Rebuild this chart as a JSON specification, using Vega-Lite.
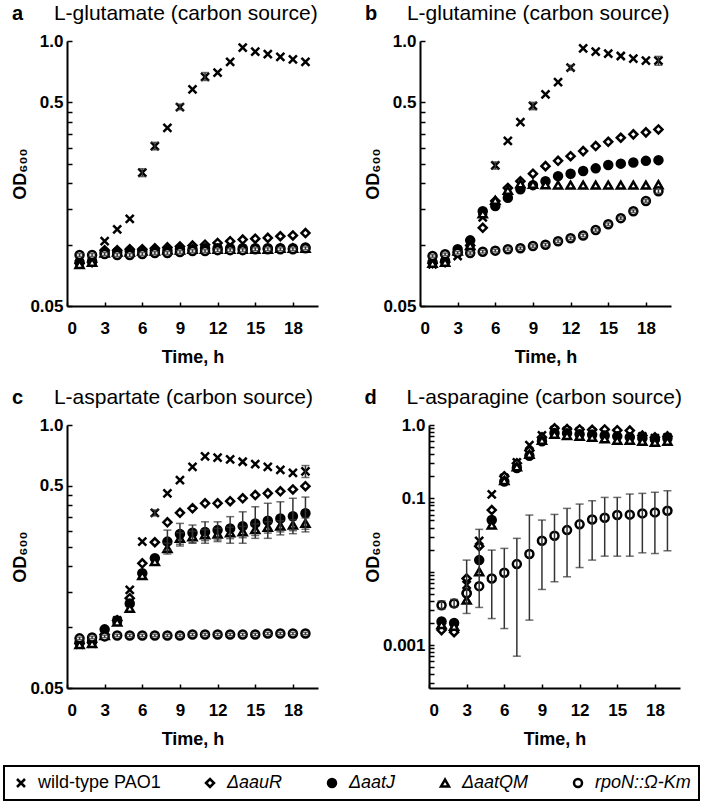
{
"$schema": "https://vega.github.io/schema/vega-lite/v6.json",
"padding": {"left": 3, "right": 3, "top": 3, "bottom": 3},
"config": {
 "font": "Liberation Sans",
 "view": {"stroke": null},
 "axis": {"grid": false, "domainColor": "black", "domainWidth": 2, "tickColor": "black", "tickWidth": 1.5, "labelFontSize": 17, "labelFontWeight": "bold", "labelColor": "black", "titleFontSize": 18, "titleFontWeight": "bold", "titleColor": "black", "labelOverlap": false, "labelBound": false},
 "title": {"anchor": "start", "fontSize": 20, "fontWeight": "bold", "color": "black", "subtitleFontSize": 21, "subtitleColor": "black", "subtitleFontWeight": "normal", "subtitlePadding": -21, "offset": 7, "subtitleFont": "Liberation Sans"},
 "legend": {"direction": "horizontal", "title": null, "labelFontSize": 18, "labelColor": "black", "strokeColor": "black", "strokeWidth": 2, "padding": 8, "columnPadding": 40, "labelOffset": 8, "symbolStrokeWidth": 2.5, "symbolSize": 64, "gridAlign": "each"}
},
"datasets": {"od": [
{"p":"a","s":"WT","t":1,"y":0.081},{"p":"a","s":"WT","t":2,"y":0.083},{"p":"a","s":"WT","t":3,"y":0.104},{"p":"a","s":"WT","t":4,"y":0.119},{"p":"a","s":"WT","t":5,"y":0.134},{"p":"a","s":"WT","t":6,"y":0.226,"lo":0.216,"hi":0.236},{"p":"a","s":"WT","t":7,"y":0.305,"lo":0.292,"hi":0.318},{"p":"a","s":"WT","t":8,"y":0.375},{"p":"a","s":"WT","t":9,"y":0.474,"lo":0.46,"hi":0.49},{"p":"a","s":"WT","t":10,"y":0.579},{"p":"a","s":"WT","t":11,"y":0.666,"lo":0.64,"hi":0.70},{"p":"a","s":"WT","t":12,"y":0.699},{"p":"a","s":"WT","t":13,"y":0.789},{"p":"a","s":"WT","t":14,"y":0.927},{"p":"a","s":"WT","t":15,"y":0.886},{"p":"a","s":"WT","t":16,"y":0.861},{"p":"a","s":"WT","t":17,"y":0.835},{"p":"a","s":"WT","t":18,"y":0.813},{"p":"a","s":"WT","t":19,"y":0.789},
{"p":"a","s":"R","t":1,"y":0.081},{"p":"a","s":"R","t":2,"y":0.082},{"p":"a","s":"R","t":3,"y":0.094},{"p":"a","s":"R","t":4,"y":0.094},{"p":"a","s":"R","t":5,"y":0.095},{"p":"a","s":"R","t":6,"y":0.095},{"p":"a","s":"R","t":7,"y":0.096},{"p":"a","s":"R","t":8,"y":0.097},{"p":"a","s":"R","t":9,"y":0.098},{"p":"a","s":"R","t":10,"y":0.099},{"p":"a","s":"R","t":11,"y":0.100},{"p":"a","s":"R","t":12,"y":0.102},{"p":"a","s":"R","t":13,"y":0.104},{"p":"a","s":"R","t":14,"y":0.106},{"p":"a","s":"R","t":15,"y":0.107},{"p":"a","s":"R","t":16,"y":0.108},{"p":"a","s":"R","t":17,"y":0.110},{"p":"a","s":"R","t":18,"y":0.111},{"p":"a","s":"R","t":19,"y":0.114},
{"p":"a","s":"J","t":1,"y":0.082},{"p":"a","s":"J","t":2,"y":0.083},{"p":"a","s":"J","t":3,"y":0.092},{"p":"a","s":"J","t":4,"y":0.092},{"p":"a","s":"J","t":5,"y":0.093},{"p":"a","s":"J","t":6,"y":0.093},{"p":"a","s":"J","t":7,"y":0.094},{"p":"a","s":"J","t":8,"y":0.094},{"p":"a","s":"J","t":9,"y":0.095},{"p":"a","s":"J","t":10,"y":0.095},{"p":"a","s":"J","t":11,"y":0.096},{"p":"a","s":"J","t":12,"y":0.096},{"p":"a","s":"J","t":13,"y":0.096},{"p":"a","s":"J","t":14,"y":0.096},{"p":"a","s":"J","t":15,"y":0.096},{"p":"a","s":"J","t":16,"y":0.096},{"p":"a","s":"J","t":17,"y":0.096},{"p":"a","s":"J","t":18,"y":0.096},{"p":"a","s":"J","t":19,"y":0.097},
{"p":"a","s":"QM","t":1,"y":0.080},{"p":"a","s":"QM","t":2,"y":0.082},{"p":"a","s":"QM","t":3,"y":0.091},{"p":"a","s":"QM","t":4,"y":0.092},{"p":"a","s":"QM","t":5,"y":0.092},{"p":"a","s":"QM","t":6,"y":0.093},{"p":"a","s":"QM","t":7,"y":0.093},{"p":"a","s":"QM","t":8,"y":0.094},{"p":"a","s":"QM","t":9,"y":0.094},{"p":"a","s":"QM","t":10,"y":0.095},{"p":"a","s":"QM","t":11,"y":0.095},{"p":"a","s":"QM","t":12,"y":0.095},{"p":"a","s":"QM","t":13,"y":0.095},{"p":"a","s":"QM","t":14,"y":0.095},{"p":"a","s":"QM","t":15,"y":0.095},{"p":"a","s":"QM","t":16,"y":0.095},{"p":"a","s":"QM","t":17,"y":0.096},{"p":"a","s":"QM","t":18,"y":0.096},{"p":"a","s":"QM","t":19,"y":0.096},
{"p":"a","s":"N","t":1,"y":0.089,"lo":0.0875,"hi":0.0905},{"p":"a","s":"N","t":2,"y":0.089,"lo":0.0875,"hi":0.0905},{"p":"a","s":"N","t":3,"y":0.090,"lo":0.0885,"hi":0.0915},{"p":"a","s":"N","t":4,"y":0.089,"lo":0.0875,"hi":0.0905},{"p":"a","s":"N","t":5,"y":0.089,"lo":0.0875,"hi":0.0905},{"p":"a","s":"N","t":6,"y":0.090,"lo":0.0885,"hi":0.0915},{"p":"a","s":"N","t":7,"y":0.091,"lo":0.0895,"hi":0.0925},{"p":"a","s":"N","t":8,"y":0.091,"lo":0.0895,"hi":0.0925},{"p":"a","s":"N","t":9,"y":0.092,"lo":0.0905,"hi":0.0935},{"p":"a","s":"N","t":10,"y":0.093,"lo":0.0915,"hi":0.0945},{"p":"a","s":"N","t":11,"y":0.093,"lo":0.0915,"hi":0.0945},{"p":"a","s":"N","t":12,"y":0.094,"lo":0.0925,"hi":0.0955},{"p":"a","s":"N","t":13,"y":0.094,"lo":0.0925,"hi":0.0955},{"p":"a","s":"N","t":14,"y":0.094,"lo":0.0925,"hi":0.0955},{"p":"a","s":"N","t":15,"y":0.095,"lo":0.0935,"hi":0.0965},{"p":"a","s":"N","t":16,"y":0.095,"lo":0.0935,"hi":0.0965},{"p":"a","s":"N","t":17,"y":0.095,"lo":0.0935,"hi":0.0965},{"p":"a","s":"N","t":18,"y":0.095,"lo":0.0935,"hi":0.0965},{"p":"a","s":"N","t":19,"y":0.096,"lo":0.0945,"hi":0.0975},

{"p":"b","s":"WT","t":1,"y":0.080},{"p":"b","s":"WT","t":2,"y":0.082},{"p":"b","s":"WT","t":3,"y":0.088},{"p":"b","s":"WT","t":4,"y":0.097},{"p":"b","s":"WT","t":5,"y":0.136},{"p":"b","s":"WT","t":6,"y":0.245,"lo":0.235,"hi":0.255},{"p":"b","s":"WT","t":7,"y":0.323},{"p":"b","s":"WT","t":8,"y":0.40},{"p":"b","s":"WT","t":9,"y":0.48,"lo":0.46,"hi":0.50},{"p":"b","s":"WT","t":10,"y":0.547},{"p":"b","s":"WT","t":11,"y":0.629},{"p":"b","s":"WT","t":12,"y":0.74,"lo":0.72,"hi":0.76},{"p":"b","s":"WT","t":13,"y":0.92},{"p":"b","s":"WT","t":14,"y":0.886},{"p":"b","s":"WT","t":15,"y":0.866},{"p":"b","s":"WT","t":16,"y":0.844},{"p":"b","s":"WT","t":17,"y":0.82},{"p":"b","s":"WT","t":18,"y":0.80},{"p":"b","s":"WT","t":19,"y":0.80,"lo":0.76,"hi":0.84},
{"p":"b","s":"R","t":1,"y":0.081},{"p":"b","s":"R","t":2,"y":0.082},{"p":"b","s":"R","t":3,"y":0.092},{"p":"b","s":"R","t":4,"y":0.099},{"p":"b","s":"R","t":5,"y":0.121},{"p":"b","s":"R","t":6,"y":0.164},{"p":"b","s":"R","t":7,"y":0.19},{"p":"b","s":"R","t":8,"y":0.205},{"p":"b","s":"R","t":9,"y":0.223},{"p":"b","s":"R","t":10,"y":0.243},{"p":"b","s":"R","t":11,"y":0.258},{"p":"b","s":"R","t":12,"y":0.272},{"p":"b","s":"R","t":13,"y":0.288},{"p":"b","s":"R","t":14,"y":0.305},{"p":"b","s":"R","t":15,"y":0.32},{"p":"b","s":"R","t":16,"y":0.335},{"p":"b","s":"R","t":17,"y":0.348},{"p":"b","s":"R","t":18,"y":0.356},{"p":"b","s":"R","t":19,"y":0.368},
{"p":"b","s":"J","t":1,"y":0.082},{"p":"b","s":"J","t":2,"y":0.083},{"p":"b","s":"J","t":3,"y":0.095},{"p":"b","s":"J","t":4,"y":0.105},{"p":"b","s":"J","t":5,"y":0.146},{"p":"b","s":"J","t":6,"y":0.155},{"p":"b","s":"J","t":7,"y":0.17},{"p":"b","s":"J","t":8,"y":0.187},{"p":"b","s":"J","t":9,"y":0.196},{"p":"b","s":"J","t":10,"y":0.205},{"p":"b","s":"J","t":11,"y":0.217},{"p":"b","s":"J","t":12,"y":0.223},{"p":"b","s":"J","t":13,"y":0.23},{"p":"b","s":"J","t":14,"y":0.237},{"p":"b","s":"J","t":15,"y":0.246},{"p":"b","s":"J","t":16,"y":0.25},{"p":"b","s":"J","t":17,"y":0.253},{"p":"b","s":"J","t":18,"y":0.258},{"p":"b","s":"J","t":19,"y":0.26},
{"p":"b","s":"QM","t":1,"y":0.081},{"p":"b","s":"QM","t":2,"y":0.082},{"p":"b","s":"QM","t":3,"y":0.093},{"p":"b","s":"QM","t":4,"y":0.099},{"p":"b","s":"QM","t":5,"y":0.142},{"p":"b","s":"QM","t":6,"y":0.165},{"p":"b","s":"QM","t":7,"y":0.185},{"p":"b","s":"QM","t":8,"y":0.199},{"p":"b","s":"QM","t":9,"y":0.198},{"p":"b","s":"QM","t":10,"y":0.197},{"p":"b","s":"QM","t":11,"y":0.196},{"p":"b","s":"QM","t":12,"y":0.196},{"p":"b","s":"QM","t":13,"y":0.196},{"p":"b","s":"QM","t":14,"y":0.196},{"p":"b","s":"QM","t":15,"y":0.196},{"p":"b","s":"QM","t":16,"y":0.196},{"p":"b","s":"QM","t":17,"y":0.196},{"p":"b","s":"QM","t":18,"y":0.196},{"p":"b","s":"QM","t":19,"y":0.197},
{"p":"b","s":"N","t":1,"y":0.088,"lo":0.0867,"hi":0.0893},{"p":"b","s":"N","t":2,"y":0.0897,"lo":0.0884,"hi":0.091},{"p":"b","s":"N","t":3,"y":0.0913,"lo":0.09,"hi":0.0926},{"p":"b","s":"N","t":4,"y":0.091,"lo":0.0897,"hi":0.0923},{"p":"b","s":"N","t":5,"y":0.0924,"lo":0.091,"hi":0.0938},{"p":"b","s":"N","t":6,"y":0.0935,"lo":0.0921,"hi":0.0949},{"p":"b","s":"N","t":7,"y":0.095,"lo":0.0936,"hi":0.0964},{"p":"b","s":"N","t":8,"y":0.096,"lo":0.0946,"hi":0.0974},{"p":"b","s":"N","t":9,"y":0.0985,"lo":0.097,"hi":0.1},{"p":"b","s":"N","t":10,"y":0.100,"lo":0.0985,"hi":0.1015},{"p":"b","s":"N","t":11,"y":0.104,"lo":0.1024,"hi":0.1056},{"p":"b","s":"N","t":12,"y":0.1075,"lo":0.1059,"hi":0.1091},{"p":"b","s":"N","t":13,"y":0.111,"lo":0.1093,"hi":0.1127},{"p":"b","s":"N","t":14,"y":0.118,"lo":0.1162,"hi":0.1198},{"p":"b","s":"N","t":15,"y":0.126,"lo":0.1241,"hi":0.1279},{"p":"b","s":"N","t":16,"y":0.135,"lo":0.133,"hi":0.137},{"p":"b","s":"N","t":17,"y":0.146,"lo":0.1438,"hi":0.1482},{"p":"b","s":"N","t":18,"y":0.164,"lo":0.1615,"hi":0.1665},{"p":"b","s":"N","t":19,"y":0.183,"lo":0.179,"hi":0.187},

{"p":"c","s":"WT","t":1,"y":0.082},{"p":"c","s":"WT","t":2,"y":0.083},{"p":"c","s":"WT","t":3,"y":0.092},{"p":"c","s":"WT","t":4,"y":0.108},{"p":"c","s":"WT","t":5,"y":0.153},{"p":"c","s":"WT","t":6,"y":0.265},{"p":"c","s":"WT","t":7,"y":0.368,"lo":0.355,"hi":0.38},{"p":"c","s":"WT","t":8,"y":0.459},{"p":"c","s":"WT","t":9,"y":0.534},{"p":"c","s":"WT","t":10,"y":0.62},{"p":"c","s":"WT","t":11,"y":0.70},{"p":"c","s":"WT","t":12,"y":0.69},{"p":"c","s":"WT","t":13,"y":0.676},{"p":"c","s":"WT","t":14,"y":0.658},{"p":"c","s":"WT","t":15,"y":0.641},{"p":"c","s":"WT","t":16,"y":0.62},{"p":"c","s":"WT","t":17,"y":0.60},{"p":"c","s":"WT","t":18,"y":0.58},{"p":"c","s":"WT","t":19,"y":0.59,"lo":0.55,"hi":0.63},
{"p":"c","s":"R","t":1,"y":0.083},{"p":"c","s":"R","t":2,"y":0.084},{"p":"c","s":"R","t":3,"y":0.092},{"p":"c","s":"R","t":4,"y":0.108},{"p":"c","s":"R","t":5,"y":0.139},{"p":"c","s":"R","t":6,"y":0.207},{"p":"c","s":"R","t":7,"y":0.263},{"p":"c","s":"R","t":8,"y":0.33},{"p":"c","s":"R","t":9,"y":0.368},{"p":"c","s":"R","t":10,"y":0.387},{"p":"c","s":"R","t":11,"y":0.41},{"p":"c","s":"R","t":12,"y":0.41},{"p":"c","s":"R","t":13,"y":0.42},{"p":"c","s":"R","t":14,"y":0.434},{"p":"c","s":"R","t":15,"y":0.45},{"p":"c","s":"R","t":16,"y":0.459},{"p":"c","s":"R","t":17,"y":0.47},{"p":"c","s":"R","t":18,"y":0.48},{"p":"c","s":"R","t":19,"y":0.498},
{"p":"c","s":"J","t":1,"y":0.084},{"p":"c","s":"J","t":2,"y":0.085},{"p":"c","s":"J","t":3,"y":0.0975},{"p":"c","s":"J","t":4,"y":0.108},{"p":"c","s":"J","t":5,"y":0.131},{"p":"c","s":"J","t":6,"y":0.185},{"p":"c","s":"J","t":7,"y":0.219},{"p":"c","s":"J","t":8,"y":0.265,"lo":0.24,"hi":0.302},{"p":"c","s":"J","t":9,"y":0.289,"lo":0.252,"hi":0.326},{"p":"c","s":"J","t":10,"y":0.293,"lo":0.26,"hi":0.32},{"p":"c","s":"J","t":11,"y":0.296,"lo":0.26,"hi":0.332},{"p":"c","s":"J","t":12,"y":0.302,"lo":0.265,"hi":0.332},{"p":"c","s":"J","t":13,"y":0.308,"lo":0.26,"hi":0.352},{"p":"c","s":"J","t":14,"y":0.316,"lo":0.26,"hi":0.372},{"p":"c","s":"J","t":15,"y":0.326,"lo":0.275,"hi":0.394},{"p":"c","s":"J","t":16,"y":0.336,"lo":0.275,"hi":0.41},{"p":"c","s":"J","t":17,"y":0.345,"lo":0.286,"hi":0.417},{"p":"c","s":"J","t":18,"y":0.354,"lo":0.29,"hi":0.434},{"p":"c","s":"J","t":19,"y":0.366,"lo":0.296,"hi":0.44},
{"p":"c","s":"QM","t":1,"y":0.082},{"p":"c","s":"QM","t":2,"y":0.083},{"p":"c","s":"QM","t":3,"y":0.091},{"p":"c","s":"QM","t":4,"y":0.106},{"p":"c","s":"QM","t":5,"y":0.124},{"p":"c","s":"QM","t":6,"y":0.18},{"p":"c","s":"QM","t":7,"y":0.211},{"p":"c","s":"QM","t":8,"y":0.245,"lo":0.23,"hi":0.26},{"p":"c","s":"QM","t":9,"y":0.275,"lo":0.257,"hi":0.293},{"p":"c","s":"QM","t":10,"y":0.28,"lo":0.262,"hi":0.298},{"p":"c","s":"QM","t":11,"y":0.286,"lo":0.268,"hi":0.304},{"p":"c","s":"QM","t":12,"y":0.289,"lo":0.27,"hi":0.308},{"p":"c","s":"QM","t":13,"y":0.293,"lo":0.274,"hi":0.312},{"p":"c","s":"QM","t":14,"y":0.296,"lo":0.277,"hi":0.315},{"p":"c","s":"QM","t":15,"y":0.304,"lo":0.284,"hi":0.324},{"p":"c","s":"QM","t":16,"y":0.312,"lo":0.292,"hi":0.332},{"p":"c","s":"QM","t":17,"y":0.316,"lo":0.296,"hi":0.336},{"p":"c","s":"QM","t":18,"y":0.32,"lo":0.30,"hi":0.34},{"p":"c","s":"QM","t":19,"y":0.326,"lo":0.305,"hi":0.347},
{"p":"c","s":"N","t":1,"y":0.088,"lo":0.0867,"hi":0.0893},{"p":"c","s":"N","t":2,"y":0.089,"lo":0.0877,"hi":0.0903},{"p":"c","s":"N","t":3,"y":0.090,"lo":0.0887,"hi":0.0913},{"p":"c","s":"N","t":4,"y":0.091,"lo":0.0897,"hi":0.0923},{"p":"c","s":"N","t":5,"y":0.091,"lo":0.0897,"hi":0.0923},{"p":"c","s":"N","t":6,"y":0.091,"lo":0.0897,"hi":0.0923},{"p":"c","s":"N","t":7,"y":0.091,"lo":0.0897,"hi":0.0923},{"p":"c","s":"N","t":8,"y":0.091,"lo":0.0897,"hi":0.0923},{"p":"c","s":"N","t":9,"y":0.091,"lo":0.0897,"hi":0.0923},{"p":"c","s":"N","t":10,"y":0.092,"lo":0.0907,"hi":0.0933},{"p":"c","s":"N","t":11,"y":0.092,"lo":0.0907,"hi":0.0933},{"p":"c","s":"N","t":12,"y":0.092,"lo":0.0907,"hi":0.0933},{"p":"c","s":"N","t":13,"y":0.092,"lo":0.0907,"hi":0.0933},{"p":"c","s":"N","t":14,"y":0.092,"lo":0.0907,"hi":0.0933},{"p":"c","s":"N","t":15,"y":0.092,"lo":0.0907,"hi":0.0933},{"p":"c","s":"N","t":16,"y":0.093,"lo":0.0917,"hi":0.0943},{"p":"c","s":"N","t":17,"y":0.093,"lo":0.0917,"hi":0.0943},{"p":"c","s":"N","t":18,"y":0.093,"lo":0.0917,"hi":0.0943},{"p":"c","s":"N","t":19,"y":0.093,"lo":0.0917,"hi":0.0943},

{"p":"d","s":"WT","t":1,"y":0.0018},{"p":"d","s":"WT","t":2,"y":0.0017},{"p":"d","s":"WT","t":3,"y":0.0066},{"p":"d","s":"WT","t":4,"y":0.0264},{"p":"d","s":"WT","t":5,"y":0.113},{"p":"d","s":"WT","t":6,"y":0.19},{"p":"d","s":"WT","t":7,"y":0.31},{"p":"d","s":"WT","t":8,"y":0.53},{"p":"d","s":"WT","t":9,"y":0.72},{"p":"d","s":"WT","t":10,"y":0.85},{"p":"d","s":"WT","t":11,"y":0.83},{"p":"d","s":"WT","t":12,"y":0.82},{"p":"d","s":"WT","t":13,"y":0.80},{"p":"d","s":"WT","t":14,"y":0.80},{"p":"d","s":"WT","t":15,"y":0.78},{"p":"d","s":"WT","t":16,"y":0.76},{"p":"d","s":"WT","t":17,"y":0.70},{"p":"d","s":"WT","t":18,"y":0.66},{"p":"d","s":"WT","t":19,"y":0.68},
{"p":"d","s":"R","t":1,"y":0.0016},{"p":"d","s":"R","t":2,"y":0.0015},{"p":"d","s":"R","t":3,"y":0.0081},{"p":"d","s":"R","t":4,"y":0.0223},{"p":"d","s":"R","t":5,"y":0.0692},{"p":"d","s":"R","t":6,"y":0.2},{"p":"d","s":"R","t":7,"y":0.3},{"p":"d","s":"R","t":8,"y":0.45},{"p":"d","s":"R","t":9,"y":0.68},{"p":"d","s":"R","t":10,"y":0.9},{"p":"d","s":"R","t":11,"y":0.88},{"p":"d","s":"R","t":12,"y":0.87},{"p":"d","s":"R","t":13,"y":0.86},{"p":"d","s":"R","t":14,"y":0.87},{"p":"d","s":"R","t":15,"y":0.85},{"p":"d","s":"R","t":16,"y":0.84},{"p":"d","s":"R","t":17,"y":0.72},{"p":"d","s":"R","t":18,"y":0.68},{"p":"d","s":"R","t":19,"y":0.70},
{"p":"d","s":"J","t":1,"y":0.0021},{"p":"d","s":"J","t":2,"y":0.0020},{"p":"d","s":"J","t":3,"y":0.0051},{"p":"d","s":"J","t":4,"y":0.0144},{"p":"d","s":"J","t":5,"y":0.0506},{"p":"d","s":"J","t":6,"y":0.17},{"p":"d","s":"J","t":7,"y":0.26},{"p":"d","s":"J","t":8,"y":0.38},{"p":"d","s":"J","t":9,"y":0.6},{"p":"d","s":"J","t":10,"y":0.78},{"p":"d","s":"J","t":11,"y":0.77},{"p":"d","s":"J","t":12,"y":0.75},{"p":"d","s":"J","t":13,"y":0.74},{"p":"d","s":"J","t":14,"y":0.72},{"p":"d","s":"J","t":15,"y":0.70},{"p":"d","s":"J","t":16,"y":0.68},{"p":"d","s":"J","t":17,"y":0.66},{"p":"d","s":"J","t":18,"y":0.64},{"p":"d","s":"J","t":19,"y":0.66},
{"p":"d","s":"QM","t":1,"y":0.0019},{"p":"d","s":"QM","t":2,"y":0.0018},{"p":"d","s":"QM","t":3,"y":0.0041},{"p":"d","s":"QM","t":4,"y":0.0100},{"p":"d","s":"QM","t":5,"y":0.0432},{"p":"d","s":"QM","t":6,"y":0.175},{"p":"d","s":"QM","t":7,"y":0.27},{"p":"d","s":"QM","t":8,"y":0.40},{"p":"d","s":"QM","t":9,"y":0.62},{"p":"d","s":"QM","t":10,"y":0.75},{"p":"d","s":"QM","t":11,"y":0.72},{"p":"d","s":"QM","t":12,"y":0.70},{"p":"d","s":"QM","t":13,"y":0.68},{"p":"d","s":"QM","t":14,"y":0.65},{"p":"d","s":"QM","t":15,"y":0.62},{"p":"d","s":"QM","t":16,"y":0.62},{"p":"d","s":"QM","t":17,"y":0.60},{"p":"d","s":"QM","t":18,"y":0.58},{"p":"d","s":"QM","t":19,"y":0.60},
{"p":"d","s":"N","t":1,"y":0.0035,"lo":0.0031,"hi":0.004},{"p":"d","s":"N","t":2,"y":0.0037,"lo":0.0033,"hi":0.0042},{"p":"d","s":"N","t":3,"y":0.0051,"lo":0.0027,"hi":0.0144},{"p":"d","s":"N","t":4,"y":0.00636,"lo":0.00326,"hi":0.0378},{"p":"d","s":"N","t":5,"y":0.0081,"lo":0.0023,"hi":0.0197},{"p":"d","s":"N","t":6,"y":0.00966,"lo":0.00168,"hi":0.0208},{"p":"d","s":"N","t":7,"y":0.0127,"lo":0.000706,"hi":0.0285},{"p":"d","s":"N","t":8,"y":0.0174,"lo":0.00219,"hi":0.0592},{"p":"d","s":"N","t":9,"y":0.0264,"lo":0.00573,"hi":0.0506},{"p":"d","s":"N","t":10,"y":0.0309,"lo":0.0073,"hi":0.0604},{"p":"d","s":"N","t":11,"y":0.0369,"lo":0.00853,"hi":0.073},{"p":"d","s":"N","t":12,"y":0.0442,"lo":0.0114,"hi":0.0836},{"p":"d","s":"N","t":13,"y":0.0516,"lo":0.0144,"hi":0.0928},{"p":"d","s":"N","t":14,"y":0.0544,"lo":0.0163,"hi":0.103},{"p":"d","s":"N","t":15,"y":0.0592,"lo":0.0163,"hi":0.103},{"p":"d","s":"N","t":16,"y":0.060,"lo":0.0163,"hi":0.1145},{"p":"d","s":"N","t":17,"y":0.0624,"lo":0.0181,"hi":0.117},{"p":"d","s":"N","t":18,"y":0.0644,"lo":0.0177,"hi":0.121},{"p":"d","s":"N","t":19,"y":0.0678,"lo":0.0193,"hi":0.127}
]},
"data": {"name": "od"},
"vconcat": [
 {"hconcat": [
  {"width": 251, "height": 265,
   "title": {"text": "a", "subtitle": "\u200b\u2003\u2003L-glutamate (carbon source)"},
   "transform": [{"filter": "datum.p == 'a'"}],
   "encoding": {"x": {"field": "t", "type": "quantitative", "title": "Time, h", "scale": {"domain": [0, 20], "nice": false}, "axis": {"values": [0,3,6,9,12,15,18], "tickSize": -4, "labelPadding": 18, "titlePadding": 12}}},
   "layer": [
    {"mark": {"type": "point", "strokeWidth": 2.5, "size": 64, "opacity": 1, "fillOpacity": 1, "strokeOpacity": 1},
     "encoding": {
      "y": {"field": "y", "type": "quantitative", "title": "OD₆₀₀", "scale": {"type": "log", "domain": [0.05, 1], "nice": false}, "axis": {"values": [0.05,0.1,0.15,0.2,0.25,0.3,0.35,0.4,0.45,0.5,1], "labelExpr": "datum.value==0.05?'0.05':datum.value==0.5?'0.5':datum.value==1?'1.0':''", "tickSize": -5, "labelPadding": 9, "titlePadding": 0}},
      "shape": {"field": "s", "type": "nominal", "scale": {"domain": ["WT","R","J","QM","N"], "range": ["M-1,-1L1,1M-1,1L1,-1","diamond","circle","triangle-up","circle"]}, "legend": {"orient": "none", "legendX": -63, "legendY": 725, "labelExpr": "{'WT':'wild-type PAO1','R':'ΔaauR','J':'ΔaatJ','QM':'ΔaatQM','N':'rpoN::Ω-Km'}[datum.label]", "labelFontStyle": {"expr": "datum.value == 'WT' ? 'normal' : 'italic'"}}},
      "fill": {"field": "s", "type": "nominal", "scale": {"domain": ["WT","R","J","QM","N"], "range": ["white","white","black","white","white"]}, "legend": {"orient": "none", "legendX": -63, "legendY": 725, "labelExpr": "{'WT':'wild-type PAO1','R':'ΔaauR','J':'ΔaatJ','QM':'ΔaatQM','N':'rpoN::Ω-Km'}[datum.label]", "labelFontStyle": {"expr": "datum.value == 'WT' ? 'normal' : 'italic'"}}},
      "stroke": {"field": "s", "type": "nominal", "scale": {"domain": ["WT","R","J","QM","N"], "range": ["black","black","black","black","black"]}, "legend": {"orient": "none", "legendX": -63, "legendY": 725, "labelExpr": "{'WT':'wild-type PAO1','R':'ΔaauR','J':'ΔaatJ','QM':'ΔaatQM','N':'rpoN::Ω-Km'}[datum.label]", "labelFontStyle": {"expr": "datum.value == 'WT' ? 'normal' : 'italic'"}}}
     }},
    {"transform": [{"filter": "isValid(datum.lo)"}],
     "mark": {"type": "errorbar", "color": "#333333", "thickness": 1.5, "ticks": {"size": 8}},
     "encoding": {"y": {"field": "lo", "type": "quantitative", "title": "OD₆₀₀"}, "y2": {"field": "hi"}}}
   ]},
  {"width": 251, "height": 265,
   "title": {"text": "b", "subtitle": "\u200b\u2003\u2003L-glutamine (carbon source)"},
   "transform": [{"filter": "datum.p == 'b'"}],
   "encoding": {"x": {"field": "t", "type": "quantitative", "title": "Time, h", "scale": {"domain": [0, 20], "nice": false}, "axis": {"values": [0,3,6,9,12,15,18], "tickSize": -4, "labelPadding": 18, "titlePadding": 12}}},
   "layer": [
    {"mark": {"type": "point", "strokeWidth": 2.5, "size": 64, "opacity": 1, "fillOpacity": 1, "strokeOpacity": 1},
     "encoding": {
      "y": {"field": "y", "type": "quantitative", "title": "OD₆₀₀", "scale": {"type": "log", "domain": [0.05, 1], "nice": false}, "axis": {"values": [0.05,0.1,0.15,0.2,0.25,0.3,0.35,0.4,0.45,0.5,1], "labelExpr": "datum.value==0.05?'0.05':datum.value==0.5?'0.5':datum.value==1?'1.0':''", "tickSize": -5, "labelPadding": 9, "titlePadding": 0}},
      "shape": {"field": "s", "type": "nominal", "scale": {"domain": ["WT","R","J","QM","N"], "range": ["M-1,-1L1,1M-1,1L1,-1","diamond","circle","triangle-up","circle"]}, "legend": {"orient": "none", "legendX": -63, "legendY": 725, "labelExpr": "{'WT':'wild-type PAO1','R':'ΔaauR','J':'ΔaatJ','QM':'ΔaatQM','N':'rpoN::Ω-Km'}[datum.label]", "labelFontStyle": {"expr": "datum.value == 'WT' ? 'normal' : 'italic'"}}},
      "fill": {"field": "s", "type": "nominal", "scale": {"domain": ["WT","R","J","QM","N"], "range": ["white","white","black","white","white"]}, "legend": {"orient": "none", "legendX": -63, "legendY": 725, "labelExpr": "{'WT':'wild-type PAO1','R':'ΔaauR','J':'ΔaatJ','QM':'ΔaatQM','N':'rpoN::Ω-Km'}[datum.label]", "labelFontStyle": {"expr": "datum.value == 'WT' ? 'normal' : 'italic'"}}},
      "stroke": {"field": "s", "type": "nominal", "scale": {"domain": ["WT","R","J","QM","N"], "range": ["black","black","black","black","black"]}, "legend": {"orient": "none", "legendX": -63, "legendY": 725, "labelExpr": "{'WT':'wild-type PAO1','R':'ΔaauR','J':'ΔaatJ','QM':'ΔaatQM','N':'rpoN::Ω-Km'}[datum.label]", "labelFontStyle": {"expr": "datum.value == 'WT' ? 'normal' : 'italic'"}}}
     }},
    {"transform": [{"filter": "isValid(datum.lo)"}],
     "mark": {"type": "errorbar", "color": "#333333", "thickness": 1.5, "ticks": {"size": 8}},
     "encoding": {"y": {"field": "lo", "type": "quantitative", "title": "OD₆₀₀"}, "y2": {"field": "hi"}}}
   ]}
 ], "spacing": 46},
 {"hconcat": [
  {"width": 251, "height": 263,
   "title": {"text": "c", "subtitle": "\u200b\u2003\u2003L-aspartate (carbon source)"},
   "transform": [{"filter": "datum.p == 'c'"}],
   "encoding": {"x": {"field": "t", "type": "quantitative", "title": "Time, h", "scale": {"domain": [0, 20], "nice": false}, "axis": {"values": [0,3,6,9,12,15,18], "tickSize": -4, "labelPadding": 18, "titlePadding": 12}}},
   "layer": [
    {"mark": {"type": "point", "strokeWidth": 2.5, "size": 64, "opacity": 1, "fillOpacity": 1, "strokeOpacity": 1},
     "encoding": {
      "y": {"field": "y", "type": "quantitative", "title": "OD₆₀₀", "scale": {"type": "log", "domain": [0.05, 1], "nice": false}, "axis": {"values": [0.05,0.1,0.15,0.2,0.25,0.3,0.35,0.4,0.45,0.5,1], "labelExpr": "datum.value==0.05?'0.05':datum.value==0.5?'0.5':datum.value==1?'1.0':''", "tickSize": -5, "labelPadding": 9, "titlePadding": 0}},
      "shape": {"field": "s", "type": "nominal", "scale": {"domain": ["WT","R","J","QM","N"], "range": ["M-1,-1L1,1M-1,1L1,-1","diamond","circle","triangle-up","circle"]}, "legend": {"orient": "none", "legendX": -63, "legendY": 725, "labelExpr": "{'WT':'wild-type PAO1','R':'ΔaauR','J':'ΔaatJ','QM':'ΔaatQM','N':'rpoN::Ω-Km'}[datum.label]", "labelFontStyle": {"expr": "datum.value == 'WT' ? 'normal' : 'italic'"}}},
      "fill": {"field": "s", "type": "nominal", "scale": {"domain": ["WT","R","J","QM","N"], "range": ["white","white","black","white","white"]}, "legend": {"orient": "none", "legendX": -63, "legendY": 725, "labelExpr": "{'WT':'wild-type PAO1','R':'ΔaauR','J':'ΔaatJ','QM':'ΔaatQM','N':'rpoN::Ω-Km'}[datum.label]", "labelFontStyle": {"expr": "datum.value == 'WT' ? 'normal' : 'italic'"}}},
      "stroke": {"field": "s", "type": "nominal", "scale": {"domain": ["WT","R","J","QM","N"], "range": ["black","black","black","black","black"]}, "legend": {"orient": "none", "legendX": -63, "legendY": 725, "labelExpr": "{'WT':'wild-type PAO1','R':'ΔaauR','J':'ΔaatJ','QM':'ΔaatQM','N':'rpoN::Ω-Km'}[datum.label]", "labelFontStyle": {"expr": "datum.value == 'WT' ? 'normal' : 'italic'"}}}
     }},
    {"transform": [{"filter": "isValid(datum.lo)"}],
     "mark": {"type": "errorbar", "color": "#333333", "thickness": 1.5, "ticks": {"size": 8}},
     "encoding": {"y": {"field": "lo", "type": "quantitative", "title": "OD₆₀₀"}, "y2": {"field": "hi"}}}
   ]},
  {"width": 251, "height": 263,
   "title": {"text": "d", "subtitle": "\u200b\u2003\u2003L-asparagine (carbon source)"},
   "transform": [{"filter": "datum.p == 'd'"}],
   "encoding": {"x": {"field": "t", "type": "quantitative", "title": "Time, h", "scale": {"domain": [0, 20], "nice": false}, "axis": {"values": [0,3,6,9,12,15,18], "tickSize": -4, "labelPadding": 18, "titlePadding": 12}}},
   "layer": [
    {"mark": {"type": "point", "strokeWidth": 2.5, "size": 64, "opacity": 1, "fillOpacity": 1, "strokeOpacity": 1},
     "encoding": {
      "y": {"field": "y", "type": "quantitative", "title": "OD₆₀₀", "scale": {"type": "log", "domain": [0.00026, 1], "nice": false}, "axis": {"values": [1,0.9,0.8,0.7,0.6,0.5,0.4,0.3,0.2,0.1,0.09,0.08,0.07,0.06,0.05,0.04,0.03,0.02,0.01,0.009,0.008,0.007,0.006,0.005,0.004,0.003,0.002,0.001,0.0009,0.0008,0.0007,0.0006,0.0005,0.0004,0.0003], "labelExpr": "datum.value==1?'1.0':datum.value==0.1?'0.1':datum.value==0.001?'0.001':''", "tickSize": -5, "labelPadding": 9, "titlePadding": 0}},
      "shape": {"field": "s", "type": "nominal", "scale": {"domain": ["WT","R","J","QM","N"], "range": ["M-1,-1L1,1M-1,1L1,-1","diamond","circle","triangle-up","circle"]}, "legend": {"orient": "none", "legendX": -63, "legendY": 725, "labelExpr": "{'WT':'wild-type PAO1','R':'ΔaauR','J':'ΔaatJ','QM':'ΔaatQM','N':'rpoN::Ω-Km'}[datum.label]", "labelFontStyle": {"expr": "datum.value == 'WT' ? 'normal' : 'italic'"}}},
      "fill": {"field": "s", "type": "nominal", "scale": {"domain": ["WT","R","J","QM","N"], "range": ["white","white","black","white","white"]}, "legend": {"orient": "none", "legendX": -63, "legendY": 725, "labelExpr": "{'WT':'wild-type PAO1','R':'ΔaauR','J':'ΔaatJ','QM':'ΔaatQM','N':'rpoN::Ω-Km'}[datum.label]", "labelFontStyle": {"expr": "datum.value == 'WT' ? 'normal' : 'italic'"}}},
      "stroke": {"field": "s", "type": "nominal", "scale": {"domain": ["WT","R","J","QM","N"], "range": ["black","black","black","black","black"]}, "legend": {"orient": "none", "legendX": -63, "legendY": 725, "labelExpr": "{'WT':'wild-type PAO1','R':'ΔaauR','J':'ΔaatJ','QM':'ΔaatQM','N':'rpoN::Ω-Km'}[datum.label]", "labelFontStyle": {"expr": "datum.value == 'WT' ? 'normal' : 'italic'"}}}
     }},
    {"transform": [{"filter": "isValid(datum.lo)"}],
     "mark": {"type": "errorbar", "color": "#333333", "thickness": 1.5, "ticks": {"size": 8}},
     "encoding": {"y": {"field": "lo", "type": "quantitative", "title": "OD₆₀₀"}, "y2": {"field": "hi"}}}
   ]}
 ], "spacing": 46}
],
"spacing": 21
}
